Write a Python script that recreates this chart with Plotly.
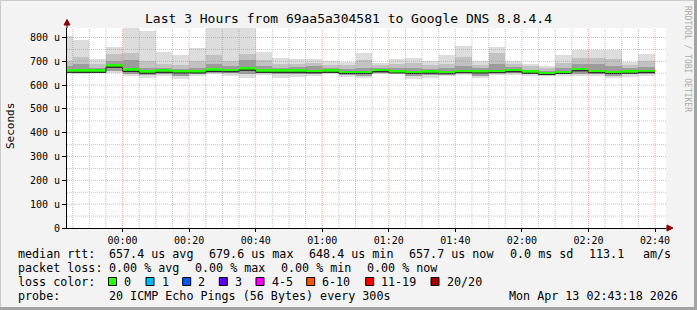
import plotly.graph_objects as go
import pandas as pd

# ---------------- data (microseconds) ----------------
bin_end = pd.date_range("2026-04-12 23:45:00", periods=36, freq="5min")

ping_min = [649, 646, 649, 653, 637, 630, 637, 625, 639, 646, 640, 630, 642, 630, 635, 637, 646, 635,
            628, 646, 646, 627, 632, 639, 644, 628, 644, 644, 639, 639, 637, 639, 637, 628, 635, 639]
ping_q1 = [652, 652, 652, 660, 648, 642, 645, 640, 645, 652, 650, 645, 650, 645, 645, 648, 650, 642,
           640, 652, 650, 640, 642, 645, 650, 640, 650, 650, 645, 642, 645, 648, 645, 640, 645, 648]
median = [658, 658, 658, 679.6, 662, 654, 658, 655, 655, 662, 660, 667, 658, 658, 658, 656, 658, 653,
          653, 660, 655, 653, 654, 651, 656, 655, 656, 660, 654, 648.4, 653, 664, 656, 653, 654, 657.7]
ping_q3 = [680, 690, 672, 700, 705, 672, 672, 668, 672, 690, 680, 705, 680, 670, 675, 680, 670, 668,
           670, 672, 670, 672, 668, 670, 680, 670, 690, 675, 665, 660, 670, 690, 690, 680, 670, 675]
ping_p90 = [700, 718, 690, 730, 735, 700, 690, 685, 700, 725, 700, 730, 705, 690, 690, 695, 685, 685,
            705, 685, 690, 695, 685, 690, 720, 685, 735, 690, 680, 672, 695, 715, 715, 710, 685, 700]
ping_max = [806, 789, 708, 760, 845, 827, 739, 725, 756, 845, 845, 845, 739, 714, 711, 711, 703, 697,
            736, 693, 708, 713, 700, 725, 763, 700, 759, 700, 689, 682, 725, 747, 747, 747, 699, 729]

y_ticks = [0, 100, 200, 300, 400, 500, 600, 700, 800]
y_tick_text = ["0", "100 u", "200 u", "300 u", "400 u", "500 u", "600 u", "700 u", "800 u"]

title = "Last 3 Hours from 69aa5a304581 to Google DNS 8.8.4.4"
loss_labels = ["0", "1", "2", "3", "4-5", "6-10", "11-19", "20/20"]
loss_colors = ["#26ff00", "#00b8ff", "#0059ff", "#5e00ff", "#ff00ff", "#ff5500", "#ff0000", "#a00000"]

# ---------------- geometry helpers ----------------
W, H = 697, 310
PL, PR, PT, PB = 67, 666, 28, 228
def px(x):
    return (x - PL) / (PR - PL)
def py(y):
    return (PB - y) / (PB - PT)

FONT = "DejaVu Sans Mono"
STEP_MS = 300000
centers = bin_end - pd.Timedelta(minutes=2.5)
starts = bin_end - pd.Timedelta(minutes=5)
t_start = pd.Timestamp("2026-04-12 23:43:18")
t_end = pd.Timestamp("2026-04-13 02:43:18")

fig = go.Figure()

def band(lo, hi, color):
    fig.add_trace(go.Bar(
        x=centers, base=lo, y=[h - l for l, h in zip(lo, hi)], width=STEP_MS,
        marker=dict(color=color, line=dict(width=0)), hoverinfo="skip", showlegend=False))

band(ping_min, ping_max, "#dddddd")
band(ping_q1, ping_p90, "#c2c2c2")
band(ping_q1, ping_q3, "#9c9c9c")
band([m - 6 for m in median], [m + 4 for m in median], "#555555")
# median in loss colour (0 loss -> green)
band([m - 2 for m in median], [m + 8 for m in median], loss_colors[0])

# dark median step line
xs = list(starts) + [bin_end[-1]]
ys = [m - 4 for m in median] + [median[-1] - 4]
fig.add_trace(go.Scatter(x=xs, y=ys, mode="lines", line=dict(color="#202020", width=1, shape="hv"),
                         hoverinfo="skip", showlegend=False))

grid_minor = "rgba(140,140,140,0.5)"
grid_major = "rgba(255,100,100,0.55)"

fig.update_layout(
    width=W, height=H,
    margin=dict(l=PL, r=W - PR, t=PT, b=H - PB, pad=0),
    paper_bgcolor="#f3f3f3", plot_bgcolor="#ffffff",
    barmode="overlay", bargap=0, showlegend=False,
    font=dict(family=FONT, size=10, color="#000000"),
    xaxis=dict(
        type="date",
        range=[t_start, t_end],
        tick0="2026-04-13 00:00:00", dtick=1200000, tickformat="%H:%M",
        showgrid=False,
        showline=True, linecolor="#000000", linewidth=1,
        ticks="outside", ticklen=3, tickcolor="#000000",
        tickfont=dict(family=FONT, size=10, color="#000000"),
        zeroline=False, fixedrange=True, layer="above traces",
    ),
    yaxis=dict(
        range=[0, 840], tickvals=y_ticks, ticktext=y_tick_text,
        showgrid=False,
        showline=True, linecolor="#000000", linewidth=1,
        ticks="outside", ticklen=4, tickcolor="#000000",
        tickfont=dict(family=FONT, size=10, color="#000000"),
        zeroline=False, fixedrange=True, layer="above traces",
    ),
)

shapes = []
ann = []

# grid drawn above the smoke, as rrdtool does
t = pd.Timestamp("2026-04-12 23:45:00")
while t < t_end:
    major = (t.minute % 20 == 0)
    shapes.append(dict(type="line", xref="x", yref="paper", x0=t, x1=t, y0=0, y1=1, layer="above",
                       line=dict(color=grid_major if major else grid_minor, width=1, dash="1px,1px")))
    t += pd.Timedelta(minutes=5)
for v in range(50, 840, 50):
    major = (v % 100 == 0)
    shapes.append(dict(type="line", xref="paper", yref="y", x0=0, x1=1, y0=v, y1=v, layer="above",
                       line=dict(color=grid_major if major else grid_minor, width=1, dash="1px,1px")))

# axis extensions and arrows
shapes.append(dict(type="line", xref="paper", yref="paper", x0=px(PR), x1=px(670), y0=0, y1=0,
                   line=dict(color="#000000", width=1)))
shapes.append(dict(type="line", xref="paper", yref="paper", x0=0, x1=0, y0=1, y1=py(23),
                   line=dict(color="#000000", width=1)))
shapes.append(dict(type="path", xref="paper", yref="paper",
                   path=f"M {px(667)},{py(225)} L {px(673)},{py(228)} L {px(667)},{py(231)} Z",
                   fillcolor="#8b0000", line=dict(color="#8b0000", width=1)))
shapes.append(dict(type="path", xref="paper", yref="paper",
                   path=f"M {px(64)},{py(25)} L {px(67)},{py(19.5)} L {px(70)},{py(25)} Z",
                   fillcolor="#8b0000", line=dict(color="#8b0000", width=1)))

# frame border
shapes.append(dict(type="line", xref="paper", yref="paper", x0=px(0), x1=px(W), y0=py(0.5), y1=py(0.5),
                   line=dict(color="#cbcbcb", width=1)))
shapes.append(dict(type="line", xref="paper", yref="paper", x0=px(0.5), x1=px(0.5), y0=py(0), y1=py(H),
                   line=dict(color="#cbcbcb", width=1)))
shapes.append(dict(type="rect", xref="paper", yref="paper", x0=px(W - 3), x1=px(W + 1), y0=py(0), y1=py(H),
                   fillcolor="#a3a3a3", line=dict(width=0)))
shapes.append(dict(type="rect", xref="paper", yref="paper", x0=px(0), x1=px(W), y0=py(H - 3), y1=py(H + 1),
                   fillcolor="#a3a3a3", line=dict(width=0)))

def text(x, y, s, size=11.7, anchor="left", color="#000000", angle=0):
    ann.append(dict(xref="paper", yref="paper", x=px(x), y=py(y), text=s, showarrow=False,
                    xanchor=anchor, yanchor="middle", textangle=angle,
                    font=dict(family=FONT, size=size, color=color)))

# title, axis title, watermark
text(348, 18.5, title, size=13, anchor="center")
text(10, 126, "Seconds", size=11, anchor="center", angle=-90)
text(688, 59, "RRDTOOL / TOBI OETIKER", size=8, anchor="center", color="#aaaaaa", angle=90)

# legend lines
L1, L2, L3, L4 = 254, 267.7, 281.5, 295.5
text(16, L1, "median rtt:")
for x, s in [(107.3, "657.4 us avg"), (207.3, "679.6 us max"), (307.3, "648.4 us min"),
             (407.3, "657.7 us now"), (507.7, "0.0 ms sd"), (586.7, "113.1"), (641, "am/s")]:
    text(x, L1, s)
text(16, L2, "packet loss:")
for x, s in [(107.3, "0.00 % avg"), (193.3, "0.00 % max"), (279.3, "0.00 % min"), (365, "0.00 % now")]:
    text(x, L2, s)
text(16, L3, "loss color:")
box_x = [108.5, 146, 182.7, 219.3, 256, 306.7, 365.7, 431]
for bx, lab, col in zip(box_x, loss_labels, loss_colors):
    shapes.append(dict(type="rect", xref="paper", yref="paper", x0=px(bx), x1=px(bx + 8),
                       y0=py(L3 - 4), y1=py(L3 + 4), fillcolor=col, line=dict(color="#000000", width=1)))
    text(bx + 13.5, L3, lab)
text(16, L4, "probe:")
text(107.3, L4, "20 ICMP Echo Pings (56 Bytes) every 300s")
text(680, L4, "Mon Apr 13 02:43:18 2026", anchor="right")

fig.update_layout(shapes=shapes, annotations=ann)
fig.write_html("out.html")
